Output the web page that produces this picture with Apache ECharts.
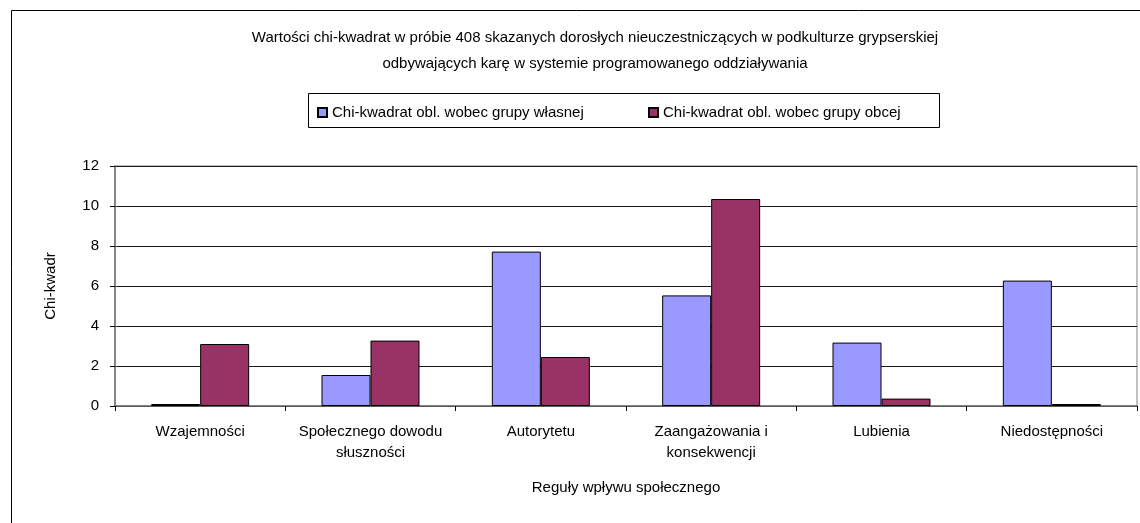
<!DOCTYPE html>
<html>
<head>
<meta charset="utf-8">
<script src="https://cdn.jsdelivr.net/npm/echarts@6/dist/echarts.min.js"></script>
<style>
  html, body { margin: 0; padding: 0; background: #fff; }
  #chart { width: 1140px; height: 523px; }
</style>
</head>
<body>
<div id="chart"></div>
<script>
// kategorie (reguły wpływu społecznego)
const categories = [
  'Wzajemności',
  'Społecznego dowodu\nsłuszności',
  'Autorytetu',
  'Zaangażowania i\nkonsekwencji',
  'Lubienia',
  'Niedostępności'
]
const seriesNames = [
  'Chi-kwadrat obl. wobec grupy własnej',
  'Chi-kwadrat obl. wobec grupy obcej'
]
const ownGroup = [0.1, 1.55, 7.72, 5.53, 3.17, 6.27]
const otherGroup = [3.1, 3.27, 2.45, 10.35, 0.37, 0.1]
const yTicks = { min: 0, max: 12, interval: 2 }

const font = 'Liberation Sans, Arial, sans-serif'
let myChart = echarts.init(document.getElementById('chart'))
myChart.setOption({
  animation: false,
  textStyle: { fontFamily: font, color: '#000' },
  title: {
    text: 'Wartości chi-kwadrat w próbie 408 skazanych dorosłych nieuczestniczących w podkulturze grypserskiej\nodbywających karę w systemie programowanego oddziaływania',
    left: 590,
    top: 20,
    textAlign: 'center',
    textStyle: { fontSize: 15, fontWeight: 'normal', color: '#000', lineHeight: 26, fontFamily: font }
  },
  graphic: [
    // ramka całego wykresu
    { type: 'rect', shape: { x: 11.5, y: 10.5, width: 1200, height: 600 }, style: { fill: 'none', stroke: '#000', lineWidth: 1 } },
    // ramka legendy
    { type: 'rect', shape: { x: 308.5, y: 93.5, width: 631, height: 34 }, style: { fill: '#fff', stroke: '#000', lineWidth: 1 }, z: 0 }
  ],
  legend: [
    {
      data: [seriesNames[0]],
      left: 312,
      top: 100,
      icon: 'rect',
      itemWidth: 9,
      itemHeight: 9,
      textStyle: { fontSize: 15, color: '#000', fontFamily: font },
      z: 5
    },
    {
      data: [seriesNames[1]],
      left: 643,
      top: 100,
      icon: 'rect',
      itemWidth: 9,
      itemHeight: 9,
      textStyle: { fontSize: 15, color: '#000', fontFamily: font },
      z: 5
    }
  ],
  grid: {
    left: 115,
    right: 3,
    top: 166,
    bottom: 117,
    show: true,
    borderColor: '#808080',
    borderWidth: 1
  },
  xAxis: {
    type: 'category',
    data: categories,
    name: 'Reguły wpływu społecznego',
    nameLocation: 'middle',
    nameGap: 74,
    nameTextStyle: { fontSize: 15, color: '#000' },
    axisLine: { lineStyle: { color: '#707070', width: 1.5 } },
    axisTick: { show: true, alignWithLabel: false, length: 5, lineStyle: { color: '#000' } },
    axisLabel: { fontSize: 15, color: '#000', lineHeight: 21, margin: 15, interval: 0 }
  },
  yAxis: {
    type: 'value',
    min: yTicks.min,
    max: yTicks.max,
    interval: yTicks.interval,
    name: 'Chi-kwadr',
    nameLocation: 'middle',
    nameGap: 57,
    nameRotate: 90,
    nameTextStyle: { fontSize: 15, color: '#000' },
    axisLine: { show: true, lineStyle: { color: '#707070', width: 1.5 } },
    axisTick: { show: true, length: 5, lineStyle: { color: '#000' } },
    axisLabel: { fontSize: 15, color: '#000', margin: 16 },
    splitLine: { show: true, lineStyle: { color: '#1a1a1a', width: 1 } }
  },
  series: [
    {
      name: seriesNames[0],
      type: 'bar',
      data: ownGroup,
      barWidth: 49,
      barGap: '0%',
      itemStyle: { color: '#9999FF', borderColor: '#000', borderWidth: 1 }
    },
    {
      name: seriesNames[1],
      type: 'bar',
      data: otherGroup,
      barWidth: 49,
      barGap: '0%',
      itemStyle: { color: '#993366', borderColor: '#000', borderWidth: 1 }
    }
  ]
})
</script>
</body>
</html>
